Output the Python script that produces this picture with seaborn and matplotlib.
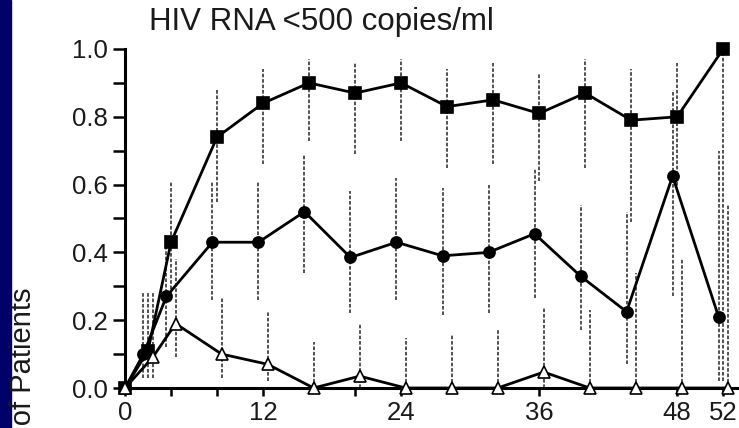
import matplotlib
matplotlib.use("Agg")
import matplotlib.pyplot as plt
import numpy as np
import seaborn as sns
from matplotlib.patches import Rectangle
from matplotlib.ticker import FormatStrFormatter

# data
weeks = np.array([0, 2, 4, 8, 12, 16, 20, 24, 28, 32, 36, 40, 44, 48, 52])

sq_vals = [0.0, 0.11, 0.43, 0.74, 0.84, 0.90, 0.87, 0.90, 0.83, 0.85, 0.81, 0.87, 0.79, 0.80, 1.0]
sq_low = [0.0, 0.03, 0.26, 0.55, 0.66, 0.73, 0.69, 0.73, 0.65, 0.66, 0.61, 0.65, 0.49, 0.58, 0.02]
sq_high = [0.0, 0.28, 0.61, 0.88, 0.94, 0.97, 0.96, 0.97, 0.94, 0.96, 0.93, 0.97, 0.94, 0.96, 1.0]

ci_vals = [0.0, 0.10, 0.27, 0.43, 0.43, 0.52, 0.385, 0.43, 0.39, 0.40, 0.455, 0.33, 0.225, 0.625, 0.21]
ci_low = [0.0, 0.03, 0.12, 0.26, 0.26, 0.34, 0.22, 0.26, 0.215, 0.22, 0.265, 0.17, 0.07, 0.27, 0.02]
ci_high = [0.0, 0.28, 0.45, 0.61, 0.61, 0.69, 0.58, 0.62, 0.59, 0.60, 0.65, 0.54, 0.52, 0.88, 0.70]

tr_vals = [0.0, 0.09, 0.19, 0.10, 0.07, 0.0, 0.035, 0.0, 0.0, 0.0, 0.047, 0.0, 0.0, 0.0, 0.0]
tr_low = [0.0, 0.03, 0.09, 0.03, 0.02, 0.0, 0.0, 0.0, 0.0, 0.0, 0.0, 0.0, 0.0, 0.0, 0.0]
tr_high = [0.0, 0.28, 0.38, 0.265, 0.225, 0.135, 0.19, 0.147, 0.156, 0.17, 0.235, 0.23, 0.34, 0.38, 0.54]

x_major = [0, 12, 24, 36, 48, 52]
x_minor = [4, 8, 20]

sns.set_theme(style="ticks")
plt.rcParams["font.family"] = ["Liberation Sans", "DejaVu Sans"]

W, H = 739, 428
fig = plt.figure(figsize=(W / 100, H / 100), dpi=100)
fig.patch.set_facecolor("white")
fig.add_artist(Rectangle((0, 0), 11 / W, 1, transform=fig.transFigure,
                         color="#000068", zorder=0))

ax = fig.add_axes([125 / W, 40 / H, (737 - 125) / W, (388 - 49) / H])

series = [
    (ci_vals, ci_low, ci_high, -0.4, "o", "black", 8),
    (sq_vals, sq_low, sq_high, 0.0, "s", "black", 9),
    (tr_vals, tr_low, tr_high, 0.4, "^", "white", 8),
]

for vals, lo, hi, off, mk, face, ms in series:
    xs = weeks + off
    xs[0] = 0
    ax.vlines(xs, lo, hi, colors="#444444", linewidth=1.3,
              linestyles=(0, (2, 1)), zorder=2, clip_on=False)
    sns.lineplot(x=xs, y=vals, ax=ax, color="black", linewidth=2.0,
                 marker=mk, markersize=ms, markerfacecolor=face,
                 markeredgecolor="black", markeredgewidth=1.2,
                 zorder=3, clip_on=False, legend=False)

ax.set_xlim(0, 53.2)
ax.set_ylim(0, 1.0)
ax.set_xticks(x_major)
ax.set_xticks(x_minor, minor=True)
ax.set_yticks(np.arange(0, 1.01, 0.2))
ax.set_yticks(np.arange(0.1, 1.0, 0.2), minor=True)
ax.yaxis.set_major_formatter(FormatStrFormatter("%.1f"))
ax.set_xlabel("")
ax.set_ylabel("")

for side in ["top", "right"]:
    ax.spines[side].set_visible(False)
for side in ["left", "bottom"]:
    ax.spines[side].set_linewidth(2.2)
    ax.spines[side].set_color("black")

ax.tick_params(axis="y", which="both", direction="out", length=8.5, width=1.8,
               color="black", labelsize=18.5, pad=4, labelcolor="#1a1a1a")
ax.tick_params(axis="x", which="both", direction="out", length=6, width=1.8,
               color="black", labelsize=18.5, pad=3, labelcolor="#1a1a1a")

fig.text(321 / W, 1 - 22 / H, "HIV RNA <500 copies/ml", ha="center", va="center",
         fontsize=22.5, color="#1a1a1a")
fig.text(23 / W, (H - 287) / H, "Proportion of Patients", rotation=90,
         ha="center", va="top", fontsize=21, color="#1a1a1a")

fig.savefig("out.png", dpi=100)
